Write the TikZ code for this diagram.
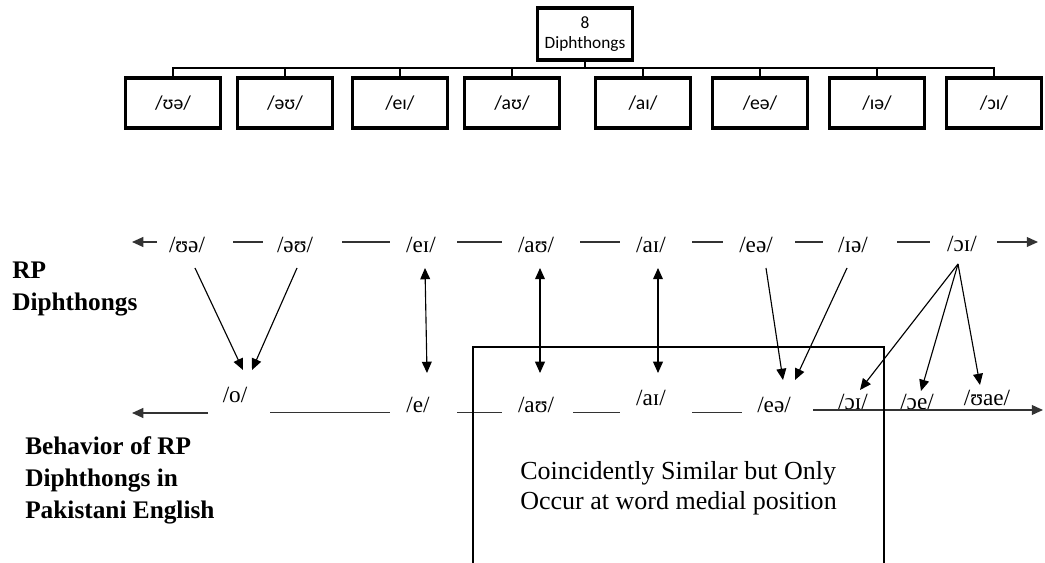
\documentclass[tikz,border=0pt]{standalone}
\usepackage{fontspec}
\setmainfont{Liberation Serif}
\newfontfamily\calfont{Carlito}
\usetikzlibrary{arrows.meta,calc}

\begin{document}
\begin{tikzpicture}[x=0.025cm, y=-0.025cm,
		kasten/.style={draw, line width=2.2pt, minimum width=68pt, minimum height=35.5pt, inner sep=1pt, align=center, font=\calfont\fontsize{14}{16}\selectfont},
		laut/.style={inner sep=0pt, font=\fontsize{16.5}{18}\selectfont},
		pfeil/.style={-{Triangle[length=8pt,width=7pt]}, line width=0.8pt},
		doppel/.style={{Triangle[length=8pt,width=7pt]}-{Triangle[length=8pt,width=7pt]}, line width=0.8pt},
		strich/.style={line width=1pt, black!80},
		titel/.style={anchor=west, inner sep=0pt, align=left, font=\bfseries\fontsize{18}{22.7}\selectfont}]
		\useasboundingbox (0,0) rectangle (1045,563);
		
		% tree of the eight diphthongs
		\node[kasten, minimum height=37pt, font=\calfont\fontsize{12.3}{13.8}\selectfont] (top) at (585,34) {8\\Diphthongs};
		\foreach \x/\t [count=\i] in {173/ʊə, 285/əʊ, 400/eɪ, 512/aʊ, 643/aɪ, 760/eə, 877/ɪə, 994/ɔɪ}
			\node[kasten] (b\i) at (\x,103) {/\t/};
		\coordinate (bus) at (585,68);
		\draw[line width=1.8pt] (top) -- (bus);
		\foreach \i in {1,...,8}
			\draw[line width=1.8pt] (b\i) |- (bus);
		
		% RP row
		\node[laut] (ua) at (187,245) {/ʊə/};
		\node[laut] (eu) at (295,245) {/əʊ/};
		\node[laut] (ei) at (421,245) {/eɪ/};
		\node[laut] (au) at (536,245) {/aʊ/};
		\node[laut] (ai) at (651,245) {/aɪ/};
		\node[laut] (ea) at (756,245) {/eə/};
		\node[laut] (ie) at (853,245) {/ɪə/};
		\node[laut] (oi) at (962,244) {/ɔɪ/};
		\draw[pfeil, strich] (157,242) -- (132,242);
		\foreach \a/\b in {233/263, 342/390, 457/502, 580/620, 692/723, 795/823, 897/930}
			\draw[strich] (\a,242) -- (\b,242);
		\draw[pfeil, strich] (997,242) -- (1038,242);
		
		% Pakistani English row
		\node[laut] (o) at (235,395) {/o/};
		\node[laut] (e) at (418,405) {/e/};
		\node[laut] (au2) at (536,405) {/aʊ/};
		\node[laut] (ai2) at (651,398) {/aɪ/};
		\node[laut] (ea2) at (774,405) {/eə/};
		\node[laut] (oi2) at (853,402) {/ɔɪ/};
		\node[laut] (oe) at (917,402) {/ɔe/};
		\node[laut] (uae) at (987,398) {/ʊae/};
		\draw[pfeil, strich] (208,413) -- (132,413);
		\foreach \a/\b in {270/390, 457/502, 573/620, 692/742}
			\draw[strich] (\a,412.5) -- (\b,412.5);
		\draw[pfeil, strich] (813,410) -- (1043,410);
		
		% labels
		\node[titel] (rp) at (12,289) {RP\\Diphthongs};
		\node[titel] (pk) at (25,480) {Behavior of RP\\Diphthongs in\\Pakistani English};
		
		% box of the similar ones
		\draw[line width=0.8pt] (473,563) -- (473,347) -- (884,347) -- (884,563);
		\node[anchor=west, inner sep=0pt, align=left, font=\fontsize{18.5}{21.3}\selectfont] (note) at (520,488) {Coincidently Similar but Only\\Occur at word medial position};
		
		% arrows
		\draw[pfeil] ($(ua)+(8,23)$) -- ($(o)+(8,-25)$);
		\draw[pfeil] ($(eu)+(2,23)$) -- ($(o)+(17,-25)$);
		\draw[doppel] ($(ei)+(4,23)$) -- ($(e)+(9,-32)$);
		\draw[doppel] ($(au)+(4,23)$) -- ($(au2)+(4,-32)$);
		\draw[doppel] ($(ai)+(7,23)$) -- ($(ai2)+(7,-25)$);
		\draw[pfeil] ($(ea)+(10,23)$) -- ($(ea2)+(9,-25)$);
		\draw[pfeil] ($(ie)+(-6,23)$) -- ($(ea2)+(21,-25)$);
		\draw[pfeil] ($(oi)+(-4,20)$) -- ($(oi2)+(7,-12)$);
		\draw[pfeil] ($(oi)+(-4,20)$) -- ($(oe)+(4,-11)$);
		\draw[pfeil] ($(oi)+(-4,20)$) -- ($(uae)+(-7,-13)$);
	\end{tikzpicture}
\end{document}
